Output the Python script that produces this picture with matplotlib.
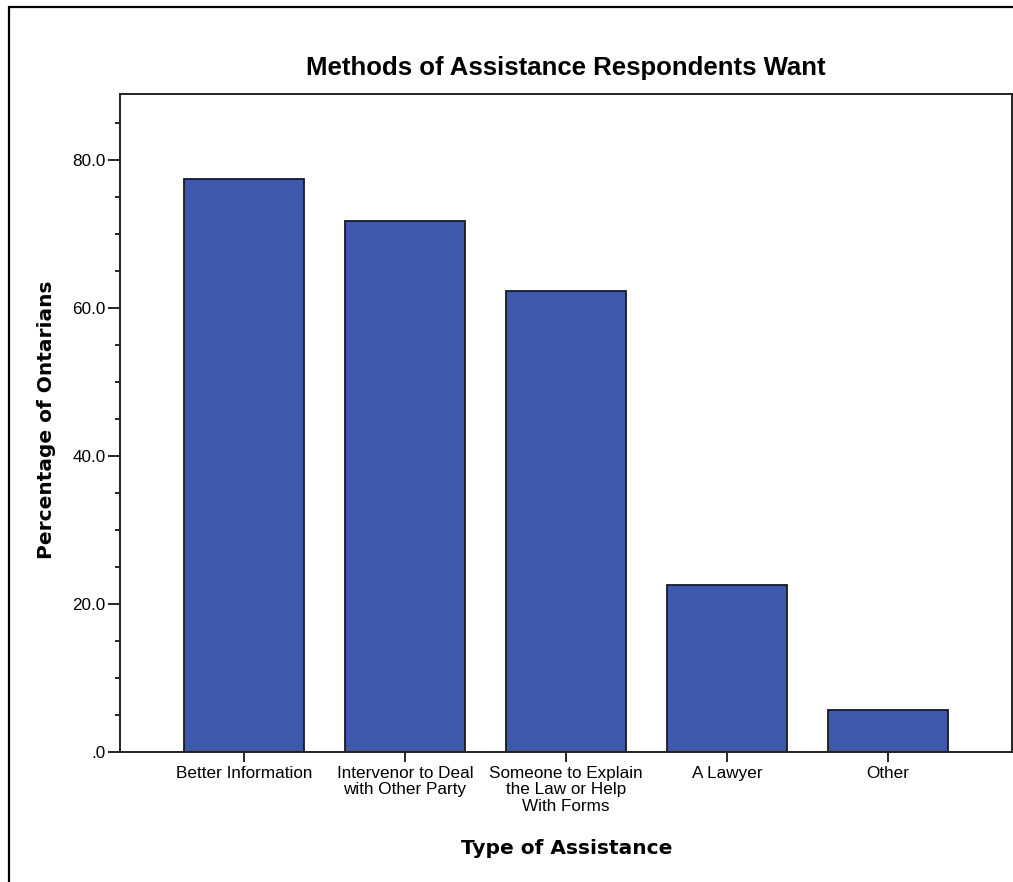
import matplotlib
matplotlib.use('Agg')
import matplotlib.pyplot as plt
from matplotlib.patches import Rectangle
from matplotlib.ticker import MultipleLocator
import numpy as np

categories = ['Better Information', 'Intervenor to Deal\nwith Other Party',
              'Someone to Explain\nthe Law or Help\nWith Forms', 'A Lawyer', 'Other']
percentages = [77.4, 71.7, 62.3, 22.6, 5.7]
y_ticks = [0, 20, 40, 60, 80]
y_tick_labels = ['.0', '20.0', '40.0', '60.0', '80.0']

W, H = 1013, 882
fig = plt.figure(figsize=(W / 100, H / 100), dpi=100)
fig.patch.set_facecolor('white')

# outer frame (only top and left edges visible in the crop)
frame = Rectangle((9 / W, -0.1), 1.2, 1.1 - 7 / H, transform=fig.transFigure,
                  fill=False, edgecolor='black', linewidth=1.6)
fig.add_artist(frame)

ax = fig.add_axes([120 / W, 1 - 752 / H, 892 / W, (752 - 94) / H])
x = np.arange(len(categories))
ax.bar(x, percentages, width=0.75, color='#3e58ac', edgecolor='#1a1a1a',
       linewidth=1.3, zorder=2)

ax.set_xlim(-0.77, 4.77)
ax.set_ylim(0, 88.9)

ax.set_xticks(x)
ax.set_xticklabels(categories, fontsize=12.3, family='Liberation Sans',
                   linespacing=1.12)
ax.set_yticks(y_ticks)
ax.set_yticklabels(y_tick_labels, fontsize=12.3, family='Liberation Sans')
ax.yaxis.set_minor_locator(MultipleLocator(5))

ax.tick_params(axis='y', which='major', length=9, width=1.2, pad=1.5, colors='black')
ax.tick_params(axis='y', which='minor', length=3.5, width=1.2)
ax.tick_params(axis='x', which='major', length=7, width=1.2, pad=3)

for s in ax.spines.values():
    s.set_linewidth(1.4)
    s.set_color('#222222')

fig.text(566 / W, 1 - 68 / H, 'Methods of Assistance Respondents Want',
         ha='center', va='center', fontsize=18.5, fontweight='bold',
         family='Liberation Sans')
fig.text(47 / W, 1 - 420 / H, 'Percentage of Ontarians', rotation=90,
         ha='center', va='center', fontsize=14.5, fontweight='bold',
         family='DejaVu Sans')
fig.text(567 / W, 1 - 848 / H, 'Type of Assistance',
         ha='center', va='center', fontsize=14.5, fontweight='bold',
         family='DejaVu Sans')

fig.savefig('out.png', dpi=100)
